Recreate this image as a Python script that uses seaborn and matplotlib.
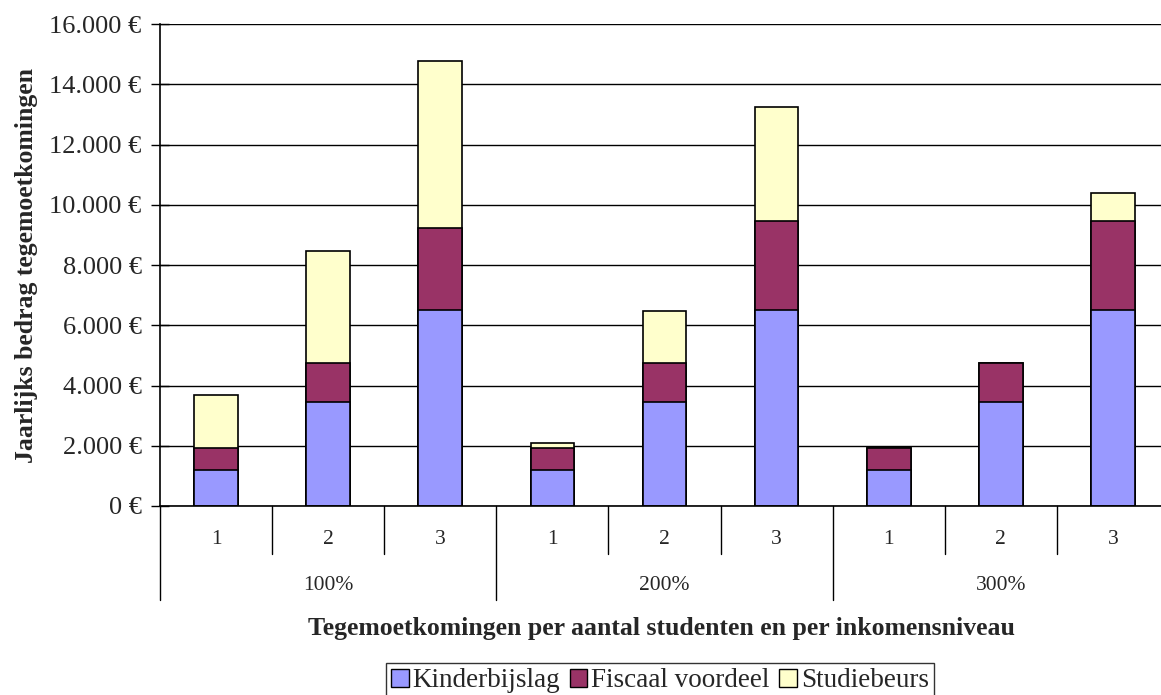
import pandas as pd
import seaborn as sns
import matplotlib.pyplot as plt
from matplotlib.patches import Patch
import matplotlib.transforms as mtransforms

# Gegevens
inkomens = ['100%', '100%', '100%', '200%', '200%', '200%', '300%', '300%', '300%']
studenten = ['1', '2', '3', '1', '2', '3', '1', '2', '3']
kinderbijslag = [1200, 3450, 6500, 1200, 3450, 6500, 1200, 3450, 6500]
fiscaal_voordeel = [710, 1310, 2730, 710, 1310, 2970, 710, 1310, 2970]
studiebeurs = [1790, 3700, 5540, 190, 1710, 3780, 0, 0, 930]

kleuren = {'Kinderbijslag': '#9999FF', 'Fiscaal voordeel': '#993366', 'Studiebeurs': '#FFFFCC'}

df = pd.DataFrame({'inkomen': inkomens, 'studenten': studenten,
                   'Kinderbijslag': kinderbijslag,
                   'Fiscaal voordeel': fiscaal_voordeel,
                   'Studiebeurs': studiebeurs})
df['sleutel'] = df['inkomen'] + ' ' + df['studenten']
# cumulatieve hoogtes om te stapelen
df['cum_kb'] = df['Kinderbijslag']
df['cum_fv'] = df['cum_kb'] + df['Fiscaal voordeel']
df['cum_sb'] = df['cum_fv'] + df['Studiebeurs']
volgorde = list(df['sleutel'])

sns.set_style('white')
plt.rcParams['font.family'] = ['Liberation Serif', 'DejaVu Serif']

fig = plt.figure(figsize=(11.61, 6.95), dpi=100)
ax = fig.add_axes([160 / 1161, 1 - 506 / 695, 1009 / 1161, 482 / 695])

for kol, naam in [('cum_sb', 'Studiebeurs'), ('cum_fv', 'Fiscaal voordeel'), ('cum_kb', 'Kinderbijslag')]:
    sns.barplot(data=df, x='sleutel', y=kol, order=volgorde, color=kleuren[naam],
                saturation=1, edgecolor='black', linewidth=1.2, width=0.39,
                errorbar=None, ax=ax)

ax.set_xlim(-0.5, 8.5)
ax.set_ylim(0, 16000)
ax.set_yticks(range(0, 16001, 2000))
ax.set_yticklabels([f'{v:,.0f} €'.replace(',', '.') for v in range(0, 16001, 2000)], fontsize=19)
ax.yaxis.grid(True, color='black', linewidth=1)
ax.set_axisbelow(True)
ax.tick_params(axis='y', direction='inout', length=13.5, width=1, color='black', left=True, pad=6.5)
ax.tick_params(axis='x', length=0, labelbottom=False)
ax.set_xlabel('')
ax.set_ylabel('')
for s in ['top', 'right']:
    ax.spines[s].set_visible(False)
for s in ['left', 'bottom']:
    ax.spines[s].set_color('black')
    ax.spines[s].set_linewidth(1.2)

# meerlaagse categorie-as
trans = mtransforms.blended_transform_factory(ax.transData, ax.transAxes)
kort = -48 / 482
lang = -94 / 482
for i in range(len(volgorde) + 1):
    x = i - 0.5
    y_eind = lang if i % 3 == 0 else kort
    ax.plot([x, x], [0, y_eind], color='black', lw=1, transform=trans, clip_on=False)
for i, s in enumerate(studenten):
    ax.text(i, -34 / 482, s, transform=trans, ha='center', va='center', fontsize=15.5)
for j, g in enumerate(['100%', '200%', '300%']):
    ax.text(3 * j + 1, -79 / 482, g, transform=trans, ha='center', va='center', fontsize=15.5)

fig.text(27 / 1161, 1 - 265 / 695, 'Jaarlijks bedrag tegemoetkomingen', rotation=90,
         ha='center', va='center', fontsize=18.5, fontweight='bold')
fig.text(661 / 1161, 1 - 628 / 695, 'Tegemoetkomingen per aantal studenten en per inkomensniveau',
         ha='center', va='center', fontsize=18.5, fontweight='bold')

handles = [Patch(facecolor=kleuren[n], edgecolor='black', linewidth=1) for n in kleuren]
leg = fig.legend(handles, list(kleuren), loc='upper center', bbox_to_anchor=(660 / 1161, 1 - 663 / 695),
                 ncol=3, fontsize=19.5, frameon=True, fancybox=False, edgecolor='black',
                 handlelength=0.65, handleheight=0.65, handletextpad=0.15, columnspacing=0.35,
                 borderpad=0.2, borderaxespad=0)
leg.get_frame().set_linewidth(1)

fig.savefig('out.png', dpi=100)
